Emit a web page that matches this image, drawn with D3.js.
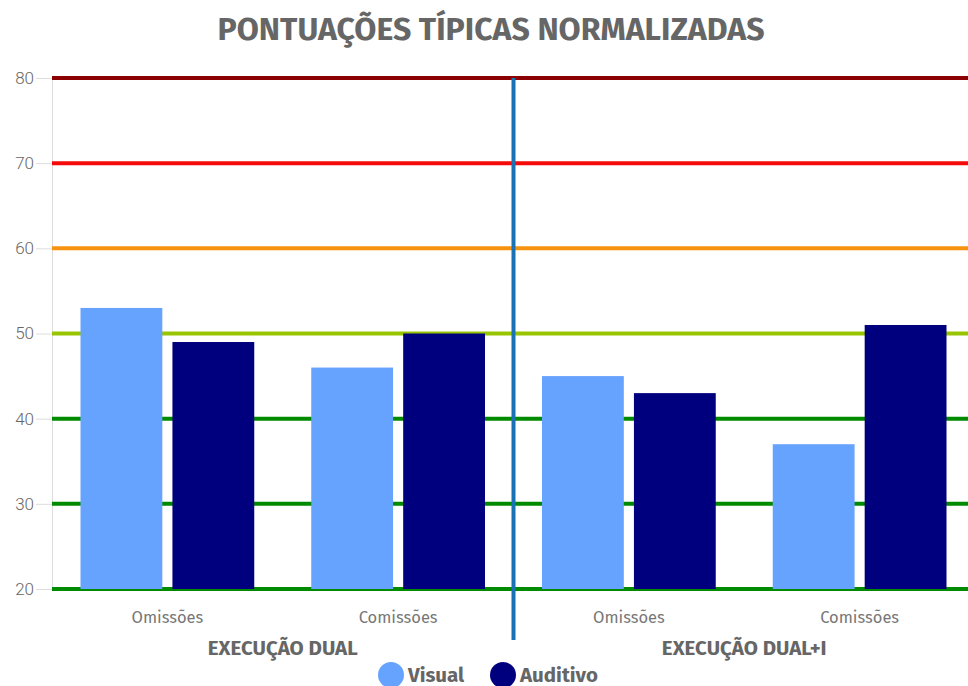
<!DOCTYPE html>
<html>
<head>
<meta charset="utf-8">
<script src="https://cdn.jsdelivr.net/npm/d3@7"></script>
<style>
body { margin: 0; background: #fff; }
svg { display: block; font-family: "Source Sans Pro", "Fira Sans", Lato, sans-serif; }
</style>
</head>
<body>
<script>
var width = 968
var height = 686
var margin = {top: 78, right: -7, bottom: 97, left: 52}

var groups = ["EXECUÇÃO DUAL", "EXECUÇÃO DUAL+I"]
var categories = ["Omissões", "Comissões", "Omissões", "Comissões"]
var series = ["Visual", "Auditivo"]
var visual = [53, 46, 45, 37]
var auditivo = [49, 50, 43, 51]
var yTicks = [20, 30, 40, 50, 60, 70, 80]
var refColors = ["#008a00", "#008a00", "#008a00", "#99c400", "#f7920f", "#f50a0a", "#8b0000"]
var colors = ["#66a3ff", "#00007f"]

var svg = d3.select("body")
    .append("svg")
        .attr("width", width)
        .attr("height", height)

var x = d3.scaleBand()
    .domain(d3.range(categories.length))
    .range([margin.left, width - margin.right])
    .paddingInner(0)
    .paddingOuter(0)

var x1 = d3.scaleBand()
    .domain(series)
    .range([0, x.bandwidth()])
    .paddingInner(0.11)
    .paddingOuter(0.31)

var y = d3.scaleLinear()
    .domain([20, 80])
    .range([height - margin.bottom, margin.top])

// title
svg.append("text")
    .attr("x", 491)
    .attr("y", 40)
    .attr("text-anchor", "middle")
    .style("font-size", "31px")
    .style("font-weight", "bold")
    .style("fill", "#666")
    .attr("textLength", 547)
    .attr("lengthAdjust", "spacingAndGlyphs")
    .text("PONTUAÇÕES TÍPICAS NORMALIZADAS")

// y axis
var yAxis = svg.append("g")
    .attr("transform", "translate(" + margin.left + ",0)")
    .call(d3.axisLeft(y).tickValues(yTicks).tickSize(16).tickPadding(2))
yAxis.select(".domain").attr("stroke", "#ddd")
yAxis.selectAll(".tick line").attr("stroke", "#ddd")
yAxis.selectAll(".tick text")
    .style("font-size", "17px")
    .style("font-family", "Roboto, sans-serif")
    .style("font-weight", "300")
    .style("fill", "#666")

// reference lines
svg.selectAll("line.ref")
    .data(yTicks)
    .enter()
    .append("line")
        .attr("class", "ref")
        .attr("x1", margin.left)
        .attr("x2", width)
        .attr("y1", function(d) { return y(d) })
        .attr("y2", function(d) { return y(d) })
        .attr("stroke", function(d, i) { return refColors[i] })
        .attr("stroke-width", 4)

// bars
var bars = []
categories.forEach(function(c, i) {
    bars.push({i: i, s: "Visual", v: visual[i]})
    bars.push({i: i, s: "Auditivo", v: auditivo[i]})
})
svg.selectAll("rect.bar")
    .data(bars)
    .enter()
    .append("rect")
        .attr("class", "bar")
        .attr("x", function(d) { return x(d.i) + x1(d.s) })
        .attr("y", function(d) { return y(d.v) })
        .attr("width", x1.bandwidth())
        .attr("height", function(d) { return y(20) - y(d.v) })
        .attr("fill", function(d) { return d.s == "Visual" ? colors[0] : colors[1] })

// category labels
svg.selectAll("text.cat")
    .data(categories)
    .enter()
    .append("text")
        .attr("x", function(d, i) { return x(i) + x.bandwidth() / 2 })
        .attr("y", 623)
        .attr("text-anchor", "middle")
        .style("font-size", "16.5px")
        .style("fill", "#777")
        .text(function(d) { return d })

// divider between groups
var mid = x(2)
svg.append("line")
    .attr("x1", mid)
    .attr("x2", mid)
    .attr("y1", y(80))
    .attr("y2", 640)
    .attr("stroke", "#1a72b5")
    .attr("stroke-width", 4)

// group labels
svg.selectAll("text.grp")
    .data(groups)
    .enter()
    .append("text")
        .attr("x", function(d, i) { return (x(i * 2) + x(i * 2 + 1) + x.bandwidth()) / 2 })
        .attr("y", 655)
        .attr("text-anchor", "middle")
        .style("font-size", "20.5px")
        .style("font-weight", "bold")
        .style("fill", "#666")
        .text(function(d) { return d })

// legend
var legendX = [391, 503]
var legend = svg.selectAll("g.leg")
    .data(series)
    .enter()
    .append("g")
        .attr("transform", function(d, i) { return "translate(" + legendX[i] + ",675)" })
legend.append("circle")
    .attr("r", 13)
    .attr("fill", function(d, i) { return colors[i] })
legend.append("text")
    .attr("x", 17)
    .attr("y", 7)
    .style("font-size", "20.5px")
    .style("font-weight", "bold")
    .style("fill", "#666")
    .text(function(d) { return d })
</script>
</body>
</html>
